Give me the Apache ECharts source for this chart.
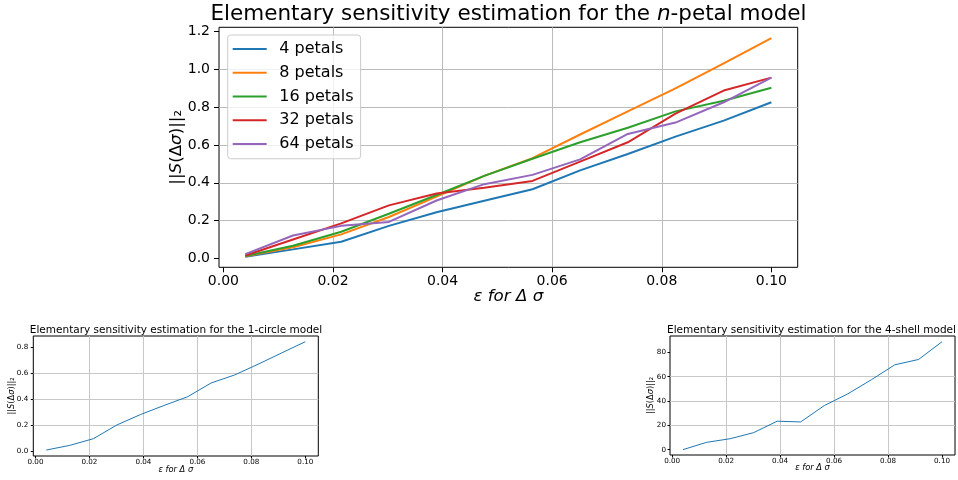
<!DOCTYPE html>
<html>
<head>
<meta charset="UTF-8">
<title>Elementary sensitivity estimation</title>
<script src="https://cdn.jsdelivr.net/npm/echarts@6/dist/echarts.min.js"></script>
<style>
html, body { margin: 0; padding: 0; background: #fff; }
#chart { width: 958px; height: 480px; }
</style>
</head>
<body>
<div id="chart"></div>
<script>
// epsilon values (x), shared by all three plots
var eps = [0.0040, 0.0127, 0.0215, 0.0302, 0.0389, 0.0476, 0.0564, 0.0651, 0.0738, 0.0825, 0.0913, 0.1000];

var petalNames = ['4 petals', '8 petals', '16 petals', '32 petals', '64 petals'];
var petals4  = [0.010, 0.049, 0.089, 0.173, 0.245, 0.305, 0.366, 0.466, 0.552, 0.644, 0.728, 0.825];
var petals8  = [0.012, 0.060, 0.128, 0.220, 0.327, 0.437, 0.530, 0.655, 0.777, 0.898, 1.030, 1.164];
var petals16 = [0.014, 0.068, 0.142, 0.237, 0.336, 0.437, 0.527, 0.614, 0.691, 0.777, 0.833, 0.902];
var petals32 = [0.017, 0.101, 0.186, 0.281, 0.344, 0.374, 0.410, 0.512, 0.614, 0.765, 0.887, 0.955];
var petals64 = [0.024, 0.122, 0.173, 0.194, 0.307, 0.393, 0.442, 0.524, 0.658, 0.718, 0.825, 0.955];

var circle1 = [0.008, 0.044, 0.096, 0.202, 0.282, 0.352, 0.420, 0.526, 0.588, 0.671, 0.759, 0.845];
var shell4  = [0.0, 6.0, 9.0, 14.0, 23.4, 22.8, 36.3, 45.9, 57.5, 69.8, 74.2, 88.8];

// tick labels
var epsTicks    = [0, 0.02, 0.04, 0.06, 0.08, 0.10];
var petalTicks  = [0, 0.2, 0.4, 0.6, 0.8, 1.0, 1.2];
var circleTicks = [0, 0.2, 0.4, 0.6, 0.8];
var shellTicks  = [0, 20, 40, 60, 80];

var colors = ['#1f77b4', '#ff7f0e', '#2ca02c', '#d62728', '#9467bd'];
var font = 'DejaVu Sans';

var chart = echarts.init(document.getElementById('chart'));

function pairs(ys) {
	return eps.map(function (x, i) { return [x, ys[i]]; });
}

// one matplotlib-like value axis
function axis(o) {
	return {
		type: 'value',
		gridIndex: o.grid,
		min: o.min,
		max: o.max,
		minInterval: o.step,
		maxInterval: o.step,
		name: o.name,
		nameLocation: 'middle',
		nameGap: o.nameGap,
		nameMoveOverlap: false,
		nameRotate: o.rotate || 0,
		nameTextStyle: o.nameStyle,
		axisLine: { show: false, onZero: false },
		axisTick: { show: true, customValues: o.ticks, length: o.tickLen, lineStyle: { color: '#000', width: 1 } },
		axisLabel: {
			customValues: o.ticks,
			fontFamily: font, fontSize: o.fontSize, color: '#000', margin: o.margin,
			formatter: function (v) { return v.toFixed(o.digits); }
		},
		splitLine: { show: true, showMinLine: false, showMaxLine: false, lineStyle: { color: o.gridColor, width: 1 } }
	};
}

function yName(size) {
	return { fontFamily: font, fontSize: size, color: '#000', rich: { i: { fontFamily: font, fontSize: size, fontStyle: 'italic', color: '#000' } } };
}
function xName(size) {
	return { fontFamily: font, fontSize: size, color: '#000', fontStyle: 'italic', rich: { n: { fontFamily: font, fontSize: size, color: '#000' } } };
}
var yLabel = '||{i|S}(Δ{i|σ})||₂';
var xLabel = 'ε for {n|Δ} σ';

function titleRich(size) {
	return {
		fontWeight: 'normal', fontFamily: font, fontSize: size, color: '#000',
		rich: {
			a: { fontFamily: font, fontSize: size, color: '#000', fontWeight: 'normal' },
			i: { fontFamily: font, fontSize: size, color: '#000', fontWeight: 'normal', fontStyle: 'italic' }
		}
	};
}

var mainSeries = [petals4, petals8, petals16, petals32, petals64].map(function (ys, k) {
	return {
		name: petalNames[k], type: 'line', xAxisIndex: 0, yAxisIndex: 0,
		data: pairs(ys), symbol: 'none', color: colors[k],
		lineStyle: { width: 2, color: colors[k] }
	};
});

var option = {
	backgroundColor: '#fff',
	animation: false,
	title: [
		{ text: '{a|Elementary sensitivity estimation for the }{i|n}{a|-petal model}', left: 508.5, top: 3, padding: 0, textAlign: 'center', textStyle: titleRich(21.5) },
		{ text: '{a|Elementary sensitivity estimation for the 1-circle model}', left: 176, top: 324.5, padding: 0, textAlign: 'center', textStyle: titleRich(10.5) },
		{ text: '{a|Elementary sensitivity estimation for the 4-shell model}', left: 811.5, top: 324.5, padding: 0, textAlign: 'center', textStyle: titleRich(10.5) }
	],
	legend: {
		data: petalNames,
		orient: 'vertical',
		left: 227.7, top: 35,
		padding: [2, 7, 3, 5],
		icon: 'rect', itemWidth: 34, itemHeight: 2, itemGap: 0,
		backgroundColor: 'rgba(255,255,255,0.8)',
		borderColor: '#cccccc', borderWidth: 1, borderRadius: 3,
		textStyle: { fontFamily: font, fontSize: 16, color: '#000', lineHeight: 23.75, padding: [0, 0, 0, 7.6] }
	},
	grid: [
		{ left: 219, top: 27.3, width: 578.7, height: 240, show: true, borderColor: '#000', borderWidth: 1, backgroundColor: 'transparent' },
		{ left: 33.3, top: 336, width: 285, height: 120, show: true, borderColor: '#000', borderWidth: 1, backgroundColor: 'transparent' },
		{ left: 670, top: 336, width: 285, height: 119, show: true, borderColor: '#000', borderWidth: 1, backgroundColor: 'transparent' }
	],
	xAxis: [
		axis({ grid: 0, min: -0.0008, max: 0.1048, step: 0.02, ticks: epsTicks, digits: 2, fontSize: 14, margin: 7, tickLen: 5,
			gridColor: '#bbbbbb', name: xLabel, nameGap: 21, nameStyle: xName(16.7) }),
		axis({ grid: 1, min: -0.0008, max: 0.1048, step: 0.02, ticks: epsTicks, digits: 2, fontSize: 7.2, margin: 3, tickLen: 2.5,
			gridColor: '#c8c8c8', name: xLabel, nameGap: 10, nameStyle: xName(8.3) }),
		axis({ grid: 2, min: -0.0008, max: 0.1048, step: 0.02, ticks: epsTicks, digits: 2, fontSize: 7.2, margin: 3, tickLen: 2.5,
			gridColor: '#c8c8c8', name: xLabel, nameGap: 9, nameStyle: xName(8.3) })
	],
	yAxis: [
		axis({ grid: 0, min: -0.0456, max: 1.2206, step: 0.2, ticks: petalTicks, digits: 1, fontSize: 14, margin: 9, tickLen: 5,
			gridColor: '#bbbbbb', name: yLabel, nameGap: 34, rotate: 90, nameStyle: yName(16.7) }),
		axis({ grid: 1, min: -0.038, max: 0.889, step: 0.2, ticks: circleTicks, digits: 1, fontSize: 7.2, margin: 5, tickLen: 2.5,
			gridColor: '#c8c8c8', name: yLabel, nameGap: 17, rotate: 90, nameStyle: yName(8.3) }),
		axis({ grid: 2, min: -4.4, max: 93.5, step: 20, ticks: shellTicks, digits: 0, fontSize: 7.2, margin: 4, tickLen: 2.5,
			gridColor: '#c8c8c8', name: yLabel, nameGap: 15, rotate: 90, nameStyle: yName(8.3) })
	],
	series: mainSeries.concat([
		{ type: 'line', xAxisIndex: 1, yAxisIndex: 1, data: pairs(circle1), symbol: 'none', color: colors[0], lineStyle: { width: 1, color: colors[0] } },
		{ type: 'line', xAxisIndex: 2, yAxisIndex: 2, data: pairs(shell4), symbol: 'none', color: colors[0], lineStyle: { width: 1, color: colors[0] } }
	])
};

chart.setOption(option);
</script>
</body>
</html>
